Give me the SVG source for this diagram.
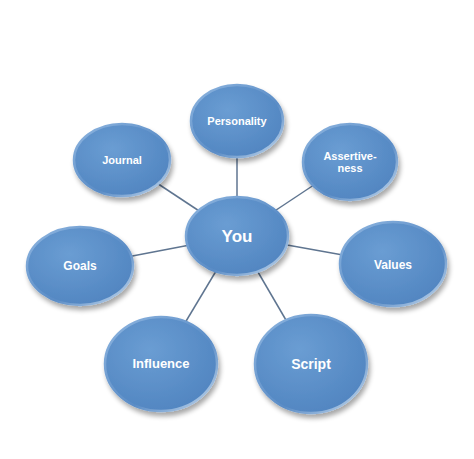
<svg xmlns="http://www.w3.org/2000/svg" width="474" height="459" viewBox="0 0 474 459">
<defs>
<radialGradient id="fillG" cx="0.4" cy="0.35" r="0.75">
<stop offset="0" stop-color="#6a9dd3"/>
<stop offset="1" stop-color="#4f83bf"/>
</radialGradient>
<linearGradient id="rimG" x1="0" y1="0" x2="1" y2="1">
<stop offset="0" stop-color="#8fb6e0"/>
<stop offset="0.6" stop-color="#5a8cc6"/>
<stop offset="1" stop-color="#c9dcef"/>
</linearGradient>
<filter id="sh" x="-20%" y="-20%" width="150%" height="150%">
<feGaussianBlur in="SourceAlpha" stdDeviation="2.5"/>
<feOffset dx="2" dy="4" result="b"/>
<feComponentTransfer><feFuncA type="linear" slope="0.35"/></feComponentTransfer>
<feMerge><feMergeNode/><feMergeNode in="SourceGraphic"/></feMerge>
</filter>
</defs>
<style>
.conn line{stroke:#5f7590;stroke-width:1.5}
.node ellipse{fill:url(#fillG);stroke:url(#rimG);stroke-width:2.5;filter:url(#sh)}
.node text{fill:#ffffff;font-family:"Liberation Sans",Arial,sans-serif;font-weight:bold;text-anchor:middle}
</style>
<rect width="474" height="459" fill="#ffffff"/>
<g id="connectors" class="conn">
<line x1="237" y1="236" x2="237" y2="121"/>
<line x1="237" y1="236" x2="122" y2="160"/>
<line x1="237" y1="236" x2="350" y2="161"/>
<line x1="237" y1="236" x2="80" y2="266"/>
<line x1="237" y1="236" x2="393" y2="264"/>
<line x1="237" y1="236" x2="161" y2="363"/>
<line x1="237" y1="236" x2="311" y2="363"/>
</g>
<g id="personality" class="node"><ellipse cx="237" cy="121" rx="46" ry="36"/><text x="237" y="125" font-size="11">Personality</text></g>
<g id="journal" class="node"><ellipse cx="122" cy="160" rx="48" ry="36"/><text x="122" y="164" font-size="11">Journal</text></g>
<g id="assertiveness" class="node"><ellipse cx="350" cy="162" rx="47" ry="38"/><text x="350" y="160" font-size="11">Assertive-</text><text x="350" y="172" font-size="11">ness</text></g>
<g id="goals" class="node"><ellipse cx="80" cy="266" rx="53" ry="39"/><text x="80" y="270" font-size="12">Goals</text></g>
<g id="values" class="node"><ellipse cx="393" cy="264" rx="53" ry="42"/><text x="393" y="269" font-size="12">Values</text></g>
<g id="influence" class="node"><ellipse cx="161" cy="364" rx="56" ry="47"/><text x="161" y="368" font-size="13">Influence</text></g>
<g id="script" class="node"><ellipse cx="311" cy="364" rx="56" ry="49"/><text x="311" y="369" font-size="14">Script</text></g>
<g id="you" class="node"><ellipse cx="237" cy="236" rx="51" ry="39"/><text x="237" y="242" font-size="17">You</text></g>
</svg>
